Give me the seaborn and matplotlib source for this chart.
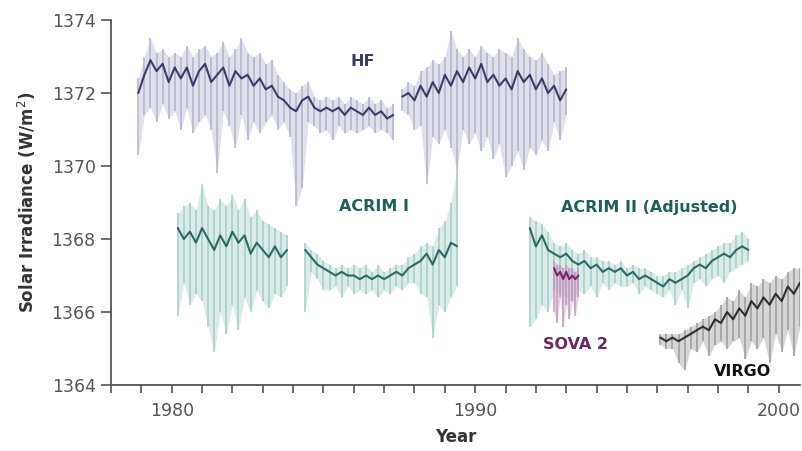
import numpy as np
import pandas as pd
import matplotlib.pyplot as plt
import seaborn as sns

# =========================
# dados (média, mínimo e máximo a cada 0.2 ano)
# =========================
hf1_start = 1978.9
hf1_mid = [1372.0, 1372.5, 1372.9, 1372.6, 1372.8, 1372.3, 1372.7, 1372.4, 1372.7, 1372.2,
           1372.6, 1372.8, 1372.3, 1372.5, 1372.7, 1372.2, 1372.6, 1372.4, 1372.5, 1372.2,
           1372.4, 1372.1, 1372.2, 1371.9, 1371.8, 1371.6, 1371.5, 1371.8, 1371.9, 1371.6,
           1371.5, 1371.6, 1371.5, 1371.6, 1371.4, 1371.6, 1371.5, 1371.4, 1371.6, 1371.4,
           1371.5, 1371.3, 1371.4]
hf1_lo = [1370.3, 1371.4, 1371.6, 1371.2, 1371.7, 1371.3, 1371.5, 1371.0, 1371.6, 1370.9,
          1371.2, 1371.4, 1371.0, 1369.8, 1371.5, 1371.1, 1370.5, 1371.4, 1370.7, 1371.2,
          1370.9, 1371.2, 1371.4, 1371.0, 1371.2, 1370.8, 1368.9, 1369.4, 1371.2, 1371.1,
          1370.9, 1371.0, 1370.7, 1371.1, 1370.9, 1371.0, 1370.9, 1371.0, 1371.1, 1370.9,
          1371.0, 1370.9, 1370.7]
hf1_hi = [1372.4, 1373.0, 1373.5, 1373.1, 1373.2, 1373.0, 1373.1, 1373.0, 1373.3, 1373.0,
          1373.2, 1373.3, 1373.0, 1373.1, 1373.4, 1373.0, 1373.2, 1373.5, 1373.1, 1373.0,
          1373.1, 1372.8, 1372.9, 1372.5, 1372.3, 1372.1, 1372.0, 1372.2, 1372.3, 1371.9,
          1371.8, 1371.9, 1371.8, 1371.9, 1371.7, 1371.9, 1371.8, 1371.7, 1371.9, 1371.7,
          1371.8, 1371.6, 1371.7]

hf2_start = 1987.6
hf2_mid = [1371.9, 1372.0, 1371.8, 1372.2, 1371.9, 1372.3, 1372.0, 1372.5, 1372.2, 1372.6,
           1372.3, 1372.7, 1372.4, 1372.8, 1372.3, 1372.5, 1372.2, 1372.4, 1372.1, 1372.6,
           1372.3, 1372.5, 1372.1, 1372.4, 1372.0, 1372.2, 1371.8, 1372.1]
hf2_lo = [1371.5, 1371.4, 1371.0, 1371.1, 1369.5, 1370.8, 1370.6, 1371.0, 1370.5, 1369.9,
          1371.0, 1370.6, 1370.9, 1370.4, 1370.8, 1370.2, 1370.6, 1369.7, 1370.0, 1370.4,
          1369.9, 1370.5, 1370.3, 1370.7, 1370.4, 1371.2, 1370.7, 1371.4]
hf2_hi = [1372.1, 1372.3, 1372.2, 1372.6, 1372.7, 1372.9, 1372.8, 1373.0, 1373.7, 1373.2,
          1373.0, 1373.2, 1373.0, 1373.3, 1373.1, 1373.0, 1373.2, 1373.1, 1373.0, 1373.5,
          1373.2, 1373.0, 1372.9, 1373.1, 1372.8, 1372.5, 1372.6, 1372.7]

acrim1a_start = 1980.2
acrim1a_mid = [1368.3, 1368.0, 1368.2, 1367.9, 1368.3, 1368.0, 1367.7, 1368.1, 1367.8, 1368.2,
               1367.9, 1368.1, 1367.6, 1367.9, 1367.7, 1367.5, 1367.8, 1367.5, 1367.7]
acrim1a_lo = [1365.9, 1366.8, 1366.2, 1366.5, 1366.3, 1365.6, 1364.9, 1366.0, 1365.4, 1366.2,
              1365.5, 1366.4, 1366.0, 1366.6, 1366.3, 1366.1, 1366.5, 1366.4, 1366.7]
acrim1a_hi = [1368.7, 1368.9, 1369.0, 1368.8, 1369.5, 1368.9, 1368.8, 1369.1, 1368.9, 1369.2,
              1368.8, 1369.1, 1368.6, 1368.8, 1368.5, 1368.4, 1368.3, 1368.2, 1368.1]

acrim1b_start = 1984.4
acrim1b_mid = [1367.7, 1367.5, 1367.3, 1367.2, 1367.1, 1367.0, 1367.1, 1367.0, 1367.0, 1366.9,
               1367.0, 1366.9, 1367.0, 1366.9, 1367.0, 1367.1, 1367.0, 1367.2, 1367.3, 1367.4,
               1367.6, 1367.3, 1367.7, 1367.5, 1367.9, 1367.8]
acrim1b_lo = [1366.0, 1367.1, 1366.9, 1366.6, 1366.6, 1366.7, 1366.4, 1366.7, 1366.5, 1366.6,
              1366.5, 1366.6, 1366.4, 1366.6, 1366.5, 1366.7, 1366.6, 1366.8, 1366.8, 1366.5,
              1366.4, 1365.3, 1366.2, 1366.0, 1366.4, 1366.7]
acrim1b_hi = [1367.9, 1367.7, 1367.6, 1367.4, 1367.3, 1367.2, 1367.3, 1367.2, 1367.3, 1367.2,
              1367.3, 1367.1, 1367.3, 1367.1, 1367.2, 1367.3, 1367.3, 1367.5, 1367.6, 1367.8,
              1367.9, 1367.8, 1368.3, 1368.5, 1369.0, 1369.9]

acrim2_start = 1991.8
acrim2_mid = [1368.3, 1367.8, 1368.1, 1367.7, 1367.6, 1367.5, 1367.6, 1367.4, 1367.3, 1367.4,
              1367.2, 1367.3, 1367.1, 1367.2, 1367.1, 1367.2, 1367.0, 1367.1, 1366.9, 1367.0,
              1366.9, 1366.8, 1366.7, 1366.9, 1366.8, 1366.9, 1367.0, 1367.2, 1367.3, 1367.2,
              1367.4, 1367.5, 1367.6, 1367.5, 1367.7, 1367.8, 1367.7]
acrim2_lo = [1365.6, 1365.8, 1366.2, 1366.0, 1366.6, 1366.5, 1366.4, 1366.3, 1366.6, 1366.5,
             1366.7, 1366.4, 1366.8, 1366.6, 1366.8, 1366.7, 1366.7, 1366.8, 1366.5, 1366.7,
             1366.6, 1366.5, 1366.4, 1366.6, 1366.2, 1366.6, 1366.1, 1366.8, 1366.9, 1366.7,
             1366.9, 1367.0, 1366.8, 1367.1, 1367.2, 1367.3, 1367.4]
acrim2_hi = [1368.6, 1368.5, 1368.4, 1368.2, 1367.9, 1367.8, 1367.9, 1367.7, 1367.6, 1367.7,
             1367.5, 1367.5, 1367.4, 1367.4, 1367.3, 1367.4, 1367.2, 1367.3, 1367.2, 1367.2,
             1367.1, 1367.0, 1367.0, 1367.1, 1367.1, 1367.2, 1367.3, 1367.4, 1367.5, 1367.6,
             1367.7, 1367.8, 1367.9, 1367.9, 1368.1, 1368.2, 1368.0]

sova_start = 1992.6
sova_mid = [1367.2, 1367.0, 1367.1, 1366.9, 1367.1, 1366.9, 1367.0, 1366.9, 1367.0]
sova_lo = [1366.0, 1365.7, 1366.4, 1365.6, 1366.2, 1365.8, 1366.3, 1365.9, 1366.4]
sova_hi = [1367.4, 1367.3, 1367.3, 1367.2, 1367.3, 1367.2, 1367.2, 1367.1, 1367.2]

virgo_start = 1996.1
virgo_mid = [1365.3, 1365.2, 1365.3, 1365.2, 1365.3, 1365.4, 1365.5, 1365.6, 1365.5, 1365.8,
             1365.7, 1366.0, 1365.8, 1366.1, 1365.9, 1366.3, 1366.1, 1366.4, 1366.2, 1366.5,
             1366.3, 1366.7, 1366.5, 1366.8]
virgo_lo = [1365.1, 1365.0, 1365.0, 1364.6, 1364.4, 1365.0, 1364.9, 1365.2, 1364.8, 1365.1,
            1365.2, 1365.0, 1365.2, 1365.3, 1364.7, 1365.2, 1365.0, 1365.3, 1364.6, 1365.4,
            1364.9, 1365.5, 1364.8, 1365.6]
virgo_hi = [1365.4, 1365.4, 1365.4, 1365.4, 1365.5, 1365.6, 1365.7, 1365.8, 1365.9, 1366.0,
            1366.2, 1366.4, 1366.3, 1366.6, 1366.4, 1366.8, 1366.7, 1366.9, 1366.8, 1367.0,
            1366.9, 1367.1, 1367.2, 1367.2]

# =========================
# cores (escura, clara)
# =========================
cor_hf = ("#2b2a5c", "#b3b2cf")
cor_acrim = ("#1a5c56", "#a3cdc6")
cor_sova = ("#6b1a63", "#c596c0")
cor_virgo = ("#1e1e1e", "#9a9a9a")

# =========================
# configuração
# =========================
sns.set_theme(style="ticks")
plt.rcParams["font.family"] = ["DejaVu Sans"]

fig = plt.figure(figsize=(8.02, 4.51), dpi=100)
ax = fig.add_axes([0.1384, 0.1463, 0.859, 0.8093])


def desenha(ax, inicio, passo, media, minimo, maximo, cores):
    anos = np.round(inicio + passo * np.arange(len(media)), 2)
    df = pd.DataFrame({"ano": anos, "media": media, "min": minimo, "max": maximo})
    # faixa clara com os picos
    ax.fill_between(df["ano"], df["min"], df["max"], color=cores[1],
                    alpha=0.4, lw=0, zorder=1)
    ax.vlines(df["ano"], df["min"], df["max"], color=cores[1], lw=1.1, zorder=2)
    # núcleo escuro
    sns.lineplot(data=df, x="ano", y="media", color=cores[0], lw=1.5,
                 alpha=0.9, estimator=None, sort=False, ax=ax, zorder=3)


desenha(ax, hf1_start, 0.2, hf1_mid, hf1_lo, hf1_hi, cor_hf)
desenha(ax, hf2_start, 0.2, hf2_mid, hf2_lo, hf2_hi, cor_hf)
desenha(ax, acrim1a_start, 0.2, acrim1a_mid, acrim1a_lo, acrim1a_hi, cor_acrim)
desenha(ax, acrim1b_start, 0.2, acrim1b_mid, acrim1b_lo, acrim1b_hi, cor_acrim)
desenha(ax, acrim2_start, 0.2, acrim2_mid, acrim2_lo, acrim2_hi, cor_acrim)
desenha(ax, sova_start, 0.1, sova_mid, sova_lo, sova_hi, cor_sova)
desenha(ax, virgo_start, 0.2, virgo_mid, virgo_lo, virgo_hi, cor_virgo)

# =========================
# rótulos das séries
# =========================
rotulos = [
    ("HF", 1986.3, 1372.85, "#3a3970"),
    ("ACRIM I", 1986.65, 1368.88, "#1f5f5a"),
    ("ACRIM II (Adjusted)", 1995.74, 1368.85, "#1f5f5a"),
    ("SOVA 2", 1993.3, 1365.1, "#6e2466"),
    ("VIRGO", 1998.8, 1364.36, "#111111"),
]
for texto, x, y, cor in rotulos:
    ax.text(x, y, texto, color=cor, fontsize=11.5, fontweight="bold",
            ha="center", va="center", zorder=5)

# =========================
# eixos
# =========================
ax.set_xlim(1978, 2000.7)
ax.set_ylim(1364, 1374)
ax.set_yticks([1364, 1366, 1368, 1370, 1372, 1374])
ax.set_xticks([1980, 1990, 2000])
ax.set_xticks(np.arange(1978, 2001), minor=True)
sns.despine(ax=ax)
for lado in ["left", "bottom"]:
    ax.spines[lado].set_color("#555555")
    ax.spines[lado].set_linewidth(1.3)
ax.tick_params(axis="both", which="both", direction="out", color="#555555",
               width=1.2, labelcolor="#555555", labelsize=12.5)
ax.tick_params(axis="y", length=7, pad=4)
ax.tick_params(axis="x", which="both", length=6, pad=6)

ax.set_xlabel("Year", fontsize=12, fontweight="bold", color="#333333", labelpad=6)
ax.set_ylabel("Solar Irradiance (W/m$^2$)", fontsize=12, fontweight="bold",
              color="#333333", labelpad=10)

plt.savefig("out.png", dpi=100)
